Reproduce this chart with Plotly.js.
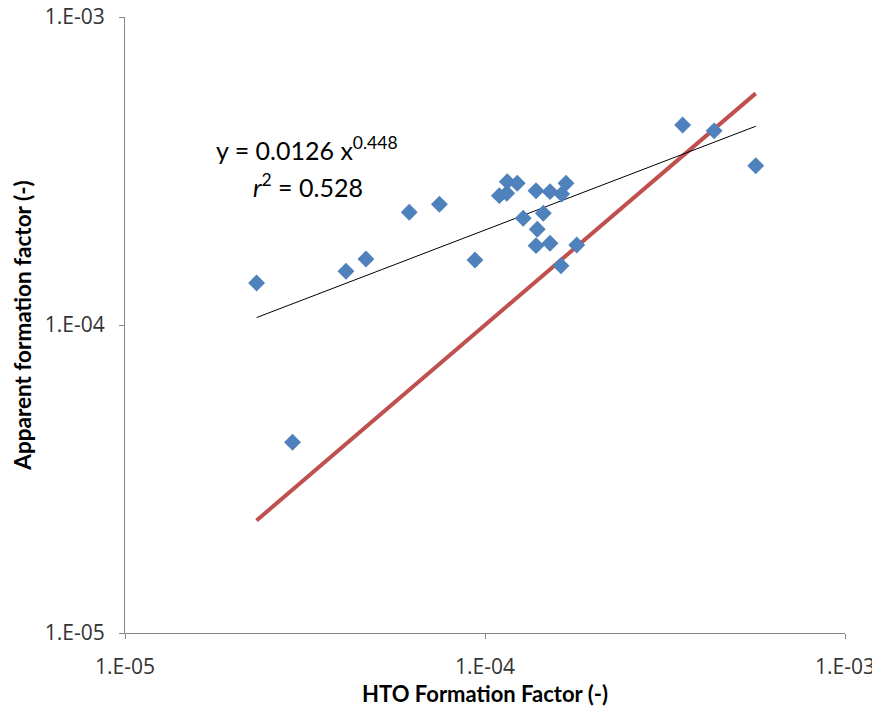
<!DOCTYPE html>
<html>
<head>
<meta charset="utf-8">
<script src="https://cdn.plot.ly/plotly-3.0.1.min.js"></script>
<style>html,body{margin:0;padding:0;background:#fff;}#chart{width:872px;height:708px;}</style>
</head>
<body>
<div id="chart"></div>
<script>
// HTO formation factor (x) vs apparent formation factor (y)
const htoFF = [2.32e-5, 2.92e-5, 4.11e-5, 4.67e-5, 6.16e-5, 7.47e-5, 9.38e-5,
  1.096e-4, 1.149e-4, 1.153e-4, 1.229e-4, 1.277e-4, 1.386e-4, 1.386e-4, 1.397e-4,
  1.452e-4, 1.516e-4, 1.516e-4, 1.633e-4, 1.679e-4, 1.626e-4, 1.798e-4,
  3.54e-4, 4.33e-4, 5.65e-4];
const apparentFF = [1.369e-4, 4.16e-5, 1.494e-4, 1.638e-4, 2.322e-4, 2.465e-4, 1.625e-4,
  2.63e-4, 2.677e-4, 2.92e-4, 2.884e-4, 2.22e-4, 2.729e-4, 1.81e-4, 2.045e-4,
  2.305e-4, 2.71e-4, 1.842e-4, 2.663e-4, 2.884e-4, 1.558e-4, 1.819e-4,
  4.46e-4, 4.27e-4, 3.29e-4];
const fitCoef = 0.0126;
const fitExp = 0.448;
const fitR2 = 0.528;
const tickVals = [1e-5, 1e-4, 1e-3];
const tickText = ["1.E-05", "1.E-04", "1.E-03"];

const xmin = Math.min(...htoFF), xmax = Math.max(...htoFF);
const lineX = [xmin, xmax];

const FONT = 'Lato, "Open Sans", sans-serif';

const traces = [
  {x: lineX, y: lineX, mode: 'lines', line: {color: '#C0504D', width: 4}, hoverinfo: 'skip'},
  {x: lineX, y: lineX.map(v => fitCoef * Math.pow(v, fitExp)), mode: 'lines', line: {color: '#000000', width: 1}, hoverinfo: 'skip'},
  {x: htoFF, y: apparentFF, mode: 'markers', marker: {symbol: 'diamond', size: 13, color: '#4F81BD'}}
];

function makeAxis(titleText, titleSize, standoff) {
  return {
    type: 'log', range: [-5, -3], tickmode: 'array', tickvals: tickVals, ticktext: tickText,
    showgrid: false, zeroline: false, showline: true, linecolor: '#868686', linewidth: 1,
    ticks: 'outside', ticklen: 5, tickcolor: '#868686',
    ticklabelstandoff: 10,
    ticklabeloverflow: 'allow',
    tickfont: {family: 'Open Sans', size: 21, color: '#333333'},
    title: {text: '<b>' + titleText + '</b>', font: {family: FONT, size: titleSize, color: '#000'}, standoff: standoff}
  };
}

const layout = {
  width: 872, height: 708,
  margin: {l: 125, r: 27, t: 17, b: 75},
  paper_bgcolor: '#ffffff', plot_bgcolor: '#ffffff',
  showlegend: false,
  xaxis: makeAxis('HTO Formation Factor (-)', 22, 6),
  yaxis: makeAxis('Apparent formation factor (-)', 22.5, 6),
  annotations: [
    {xref: 'paper', yref: 'paper', x: 0.123, y: 0.787, xanchor: 'left', yanchor: 'middle', showarrow: false,
     text: 'y = ' + fitCoef + ' x<sup>' + fitExp + '</sup>', font: {family: FONT, size: 25, color: '#000'}},
    {xref: 'paper', yref: 'paper', x: 0.175, y: 0.727, xanchor: 'left', yanchor: 'middle', showarrow: false,
     text: '<i>r</i><sup>2</sup> = ' + fitR2, font: {family: FONT, size: 25, color: '#000'}}
  ]
};

Plotly.newPlot('chart', traces, layout, {staticPlot: true, displayModeBar: false});
</script>
</body>
</html>
